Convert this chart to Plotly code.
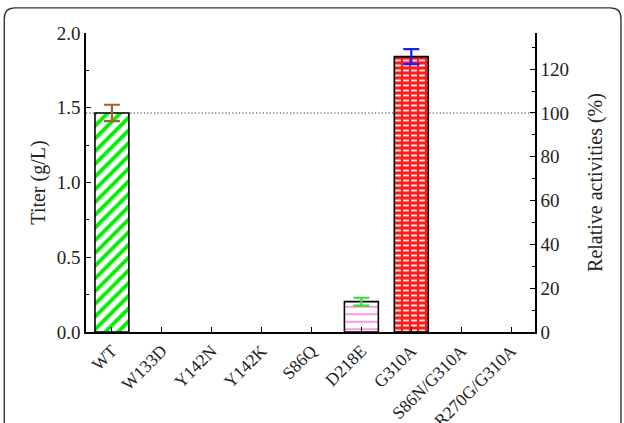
import plotly.graph_objects as go

# Mutant panel and measured titers
categories = ["WT", "W133D", "Y142N", "Y142K", "S86Q", "D218E", "G310A",
              "S86N/G310A", "R270G/G310A"]
titer = [1.465, 0, 0, 0, 0, 0.203, 1.842, 0, 0]          # g/L
titer_err = [0.055, 0, 0, 0, 0, 0.026, 0.050, 0, 0]       # g/L, SD

# Fill style per mutant (only drawn where a bar exists)
bar_style = {
    "WT":    dict(shape="/", fg="#00ee00", bg="white", size=9, solidity=0.42, err="#a0642a"),
    "D218E": dict(shape="-", fg="#ff55cc", bg="white", size=7.5, solidity=0.16, err="#33dd33"),
    "G310A": dict(shape="-", fg="#ffe8e8", bg="#ff1a1a", size=5, solidity=0.38, err="#1a1aff",
                  joints=True),
}

SERIF = "Liberation Serif"
TXT = "#222222"
wt_titer = titer[0]
right_max = 2.0 / wt_titer * 100   # relative activity (%) matching 2.0 g/L

fig = go.Figure()

for cat, val, err in zip(categories, titer, titer_err):
    if val <= 0:
        continue
    st = bar_style[cat]
    fig.add_trace(go.Bar(
        x=[cat], y=[val],
        marker=dict(color=st["bg"], line=dict(width=0),
                    pattern=dict(shape=st["shape"], fgcolor=st["fg"], bgcolor=st["bg"],
                                 fgopacity=1, size=st["size"], solidity=st["solidity"],
                                 fillmode="overlay")),
        showlegend=False, hoverinfo="skip",
    ))
    # outline (plus vertical brick joints for the brick fill)
    fig.add_trace(go.Bar(
        x=[cat], y=[val],
        marker=dict(color="rgba(0,0,0,0)", line=dict(width=1.6, color="black"),
                    pattern=dict(shape="|" if st.get("joints") else "",
                                 fgcolor=st["bg"], bgcolor="rgba(0,0,0,0)", fgopacity=1,
                                 size=8, solidity=0.28, fillmode="overlay")),
        error_y=dict(type="data", array=[err], color=st["err"], thickness=2.2, width=8),
        showlegend=False, hoverinfo="skip",
    ))

# Invisible trace that carries the relative-activity axis
fig.add_trace(go.Scatter(x=[categories[0]], y=[0], yaxis="y2", mode="markers",
                         marker=dict(opacity=0), showlegend=False, hoverinfo="skip"))

# 100 % reference line (WT level)
fig.add_shape(type="line", xref="paper", x0=0, x1=1, yref="y2", y0=100, y1=100,
              line=dict(color="#333333", width=1.2, dash="1.2px,2.2px"), layer="below")

# Rounded panel frame
fx0, fx1, fy0, fy1 = -0.1820, 1.1915, -0.40, 1.0840
rx, ry = 0.024, 0.036
frame_path = (f"M {fx0} {fy0} L {fx0} {fy1 - ry} Q {fx0} {fy1} {fx0 + rx} {fy1} "
              f"L {fx1 - rx} {fy1} Q {fx1} {fy1} {fx1} {fy1 - ry} L {fx1} {fy0}")
fig.add_shape(type="path", xref="paper", yref="paper", path=frame_path,
              line=dict(color="#333333", width=1.4))

axis_common = dict(showline=True, linecolor="black", linewidth=1.5, showgrid=False,
                   zeroline=False, ticks="inside", tickcolor="black", tickwidth=1.3,
                   ticklen=5, automargin=False,
                   tickfont=dict(family=SERIF, size=19, color=TXT))

fig.update_layout(
    width=624, height=423,
    margin=dict(l=86, r=89, t=33, b=91),
    paper_bgcolor="white", plot_bgcolor="white",
    barmode="overlay", bargap=0.32,
    xaxis=dict(**{**axis_common, "tickfont": dict(family=SERIF, size=17.5, color=TXT)},
               type="category", categoryorder="array",
               categoryarray=categories, tickvals=categories,
               range=[-0.52, 8.48], tickangle=-45),
    yaxis=dict(**axis_common, range=[0, 2.0], tickvals=[0, 0.5, 1.0, 1.5, 2.0],
               ticktext=["0.0", "0.5", "1.0", "1.5", "2.0"],
               minor=dict(tickvals=[0.25, 0.75, 1.25, 1.75], ticks="inside",
                          ticklen=3, tickcolor="black", tickwidth=1.2),
               title=dict(text="Titer (g/L)", font=dict(family=SERIF, size=20, color=TXT),
                          standoff=6)),
    yaxis2=dict(**axis_common, overlaying="y", side="right", range=[0, right_max],
                tickvals=[0, 20, 40, 60, 80, 100, 120],
                minor=dict(tickvals=[10, 30, 50, 70, 90, 110, 130], ticks="inside",
                           ticklen=3, tickcolor="black", tickwidth=1.2),
                title=dict(text="Relative activities (%)",
                           font=dict(family=SERIF, size=20, color=TXT), standoff=20)),
)

fig.write_html("out.html")
